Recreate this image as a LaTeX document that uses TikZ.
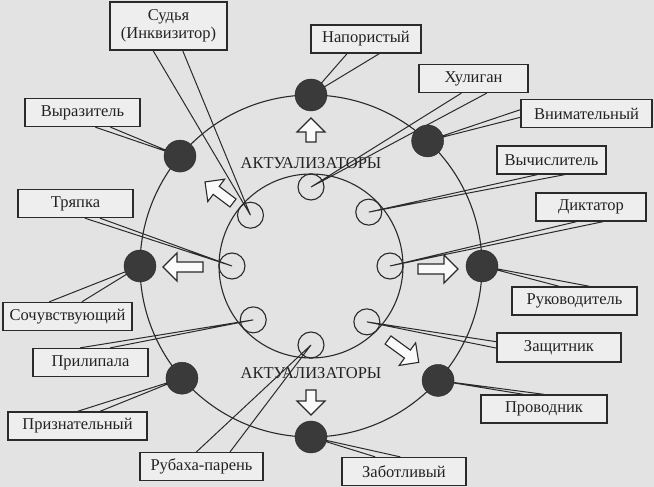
\documentclass[tikz,border=0pt]{standalone}
\usepackage{fontspec}
\setmainfont{Liberation Serif}
\usetikzlibrary{calc}

\definecolor{paper}{HTML}{E3E3E3}
\definecolor{boxfill}{HTML}{EEEEEE}
\definecolor{ink}{HTML}{2A2A2A}
\definecolor{dotfill}{HTML}{3A3A3A}

% box, first anchor, second anchor, two fractions along that edge, target
\newcommand{\callout}[6]{%
  \draw[wedge] ($(#1.#2)!#4!(#1.#3)$) -- (#6) -- ($(#1.#2)!#5!(#1.#3)$);}
% tail, angle, length
\newcommand{\hollowarrow}[3]{%
  \draw[hollow, shift={(#1)}, rotate=#2]
    (0,-5) -- (#3-14,-5) -- (#3-14,-14) -- (#3,0) -- (#3-14,14) -- (#3-14,5) -- (0,5) -- cycle;}

\begin{document}
\begin{tikzpicture}[
        x=1pt, y=1pt,
        every node/.style={font=\fontsize{16.5}{18}\selectfont, text=ink!80!black},
        box/.style={
            draw=ink,
            fill=boxfill,
            line width=1.3pt,
            minimum height=28pt,
            inner sep=2pt,
            align=center
        },
        dot/.style={circle, draw=ink, fill=dotfill, minimum size=32pt, inner sep=0pt},
        member/.style={circle, draw=ink, line width=1.1pt, minimum size=26pt, inner sep=0pt},
        wedge/.style={draw=ink, line width=1pt, line join=miter},
        hollow/.style={draw=ink, fill=white!70!boxfill, line width=1.1pt},
        ring/.style={draw=ink, line width=1.1pt}
    ]
    \useasboundingbox (-311,-221) rectangle (343,266);
    \fill[paper] (-311,-221) rectangle (343,266);

    % the two rings
    \draw[ring] (0,0) circle (171);
    \draw[ring] (0,0) circle (92);

    \node (acttop) at (0,103) {АКТУАЛИЗАТОРЫ};
    \node (actbot) at (0,-107) {АКТУАЛИЗАТОРЫ};

    % inner members and outer places
    \foreach \a in {90,43,0,-45,-90,-137,180,140}
        \node[member] (i\a) at (\a:79) {};
    \foreach \a in {90,47,0,-42,-90,-139,180,140}
        \coordinate (o\a) at (\a:171);

    % labels
    \node[box, minimum width=117pt, minimum height=48pt] (sudya) at (-142.5,240) {Судья\\(Инквизитор)};
    \node[box, minimum width=110pt] (napor) at (55,227) {Напористый};
    \node[box, minimum width=109pt] (huligan) at (162.5,187.5) {Хулиган};
    \node[box, minimum width=131pt] (vnimat) at (275.5,152.5) {Внимательный};
    \node[box, minimum width=109pt] (vychisl) at (240.5,106) {Вычислитель};
    \node[box, minimum width=110pt] (diktator) at (280,59) {Диктатор};
    \node[box, minimum width=125pt] (rukovod) at (263.5,-35) {Руководитель};
    \node[box, minimum width=124pt, minimum height=29pt] (zashch) at (248,-81.5) {Защитник};
    \node[box, minimum width=126pt] (provod) at (233,-143) {Проводник};
    \node[box, minimum width=124pt] (zabotl) at (93,-205.5) {Заботливый};
    \node[box, minimum width=123pt] (rubaha) at (-109.5,-200.5) {Рубаха-парень};
    \node[box, minimum width=139pt] (priznat) at (-233.5,-160) {Признательный};
    \node[box, minimum width=115pt] (prilip) at (-220.5,-96.5) {Прилипала};
    \node[box, minimum width=129pt] (sochuv) at (-243.5,-50.5) {Сочувствующий};
    \node[box, minimum width=115pt] (tryapka) at (-235.5,62.5) {Тряпка};
    \node[box, minimum width=115pt] (vyraz) at (-228.5,153.5) {Выразитель};

    % pointers
    \callout{sudya}{south west}{south east}{0.37}{0.62}{i140.center}
    \callout{napor}{south west}{south east}{0.33}{0.62}{o90}
    \callout{huligan}{south west}{south east}{0.39}{0.62}{i90.center}
    \callout{vnimat}{north west}{south west}{0.37}{0.63}{o47}
    \callout{vychisl}{south west}{south east}{0.37}{0.62}{i43.center}
    \callout{diktator}{south west}{south east}{0.37}{0.61}{i0.center}
    \callout{rukovod}{north west}{north east}{0.38}{0.62}{o0}
    \callout{zashch}{north west}{south west}{0.31}{0.52}{i-45.center}
    \callout{provod}{north west}{north east}{0.34}{0.50}{o-42}
    \callout{zabotl}{north west}{north east}{0.27}{0.47}{o-90}
    \callout{rubaha}{north west}{north east}{0.46}{0.73}{i-90.center}
    \callout{priznat}{north west}{north east}{0.50}{0.66}{o-139}
    \callout{prilip}{north west}{north east}{0.41}{0.67}{i-137.center}
    \callout{sochuv}{north west}{north east}{0.36}{0.61}{o180}
    \callout{tryapka}{south west}{south east}{0.58}{0.71}{i180.center}
    \callout{vyraz}{south west}{south east}{0.61}{0.74}{o140}

    \foreach \a in {90,47,0,-42,-90,-139,180,140}
        \node[dot] (d\a) at (o\a) {};

    % hollow arrows
    \hollowarrow{0,124}{90}{24}
    \hollowarrow{-78,63}{143}{35}
    \hollowarrow{-108,-1}{180}{40}
    \hollowarrow{0,-124}{-90}{25}
    \hollowarrow{107,-3}{0}{40}
    \hollowarrow{77,-74}{-36}{38}
\end{tikzpicture}
\end{document}
